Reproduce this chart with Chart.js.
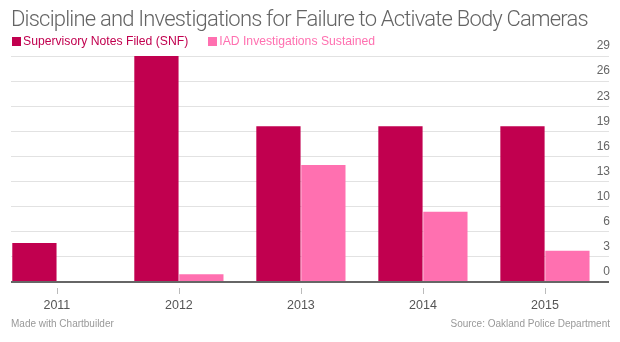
<!DOCTYPE html>
<html>
<head>
<meta charset="utf-8">
<script src="https://cdn.jsdelivr.net/npm/chart.js@4.4.1/dist/chart.umd.min.js"></script>
<style>
  html, body { margin: 0; padding: 0; background: #fff; }
  #wrap { position: relative; width: 620px; height: 342px; overflow: hidden; }
  #chart { position: absolute; left: 0; top: 0; }
  #title { position: absolute; left: 11px; top: 8px; font: 300 22px/22px Roboto, sans-serif; letter-spacing: -0.8px; color: #646464; white-space: nowrap; }
  #legend { position: absolute; left: 12px; top: 35px; display: flex; font: 12.2px/13px "Liberation Sans", Arial, sans-serif; white-space: nowrap; }
  #legend .item { display: flex; align-items: center; margin-right: 20px; }
  #legend .box { width: 9px; height: 9px; margin-right: 2px; }
  .foot { position: absolute; top: 318px; font: 10px/11px "Liberation Sans", Arial, sans-serif; color: #999; white-space: nowrap; }
</style>
</head>
<body>
<div id="wrap">
  <canvas id="chart" width="620" height="342"></canvas>
  <div id="title">Discipline and Investigations for Failure to Activate Body Cameras</div>
  <div id="legend"></div>
  <div class="foot" style="left:11px">Made with Chartbuilder</div>
  <div class="foot" style="right:10px">Source: Oakland Police Department</div>
</div>
<script>
const years = ['2011', '2012', '2013', '2014', '2015'];
const seriesNames = ['Supervisory Notes Filed (SNF)', 'IAD Investigations Sustained'];
const snfFiled = [5, 29, 20, 20, 20];
const iadSustained = [0, 1, 15, 9, 4];
const yTickLabels = ['0', '3', '6', '10', '13', '16', '19', '23', '26', '29'];
const yMax = 29;

const colors = ['#c1004f', '#ff70b0'];
const sans = '"Liberation Sans", Arial, sans-serif';

// legend in html so it lines up with the title
const legend = document.getElementById('legend');
seriesNames.forEach((name, i) => {
  const item = document.createElement('div');
  item.className = 'item';
  item.style.color = colors[i];
  const box = document.createElement('span');
  box.className = 'box';
  box.style.background = colors[i];
  item.appendChild(box);
  item.appendChild(document.createTextNode(name));
  legend.appendChild(item);
});

const toPoints = (values) => years.map((y, i) => ({ x: i, y: values[i] }));

// little grey marks under the baseline, a few px below it
const tickMarks = {
  id: 'tickMarks',
  afterDraw(chart) {
    const xScale = chart.scales.x;
    const ctx = chart.ctx;
    ctx.save();
    ctx.fillStyle = '#bbb';
    xScale.ticks.forEach((t, i) => {
      const px = Math.round(xScale.getPixelForTick(i));
      ctx.fillRect(px, xScale.top + 6, 1, 6);
    });
    ctx.restore();
  }
};

new Chart(document.getElementById('chart'), {
  type: 'bar',
  data: {
    datasets: [
      { label: seriesNames[0], data: toPoints(snfFiled), backgroundColor: colors[0] },
      { label: seriesNames[1], data: toPoints(iadSustained), backgroundColor: colors[1] }
    ]
  },
  plugins: [tickMarks],
  options: {
    responsive: false,
    animation: false,
    devicePixelRatio: 1,
    categoryPercentage: 0.7365,
    barPercentage: 0.985,
    layout: { padding: { top: 56, left: 11, right: 9, bottom: 25 } },
    plugins: {
      legend: { display: false },
      title: { display: false },
      tooltip: { enabled: false }
    },
    scales: {
      x: {
        type: 'linear',
        offset: false,
        min: -0.376,
        max: 4.525,
        afterBuildTicks: (axis) => {
          axis.ticks = years.map((y, i) => ({ value: i }));
        },
        ticks: {
          callback: (v) => years[v],
          color: '#555',
          font: { family: sans, size: 12.5 },
          padding: 4,
          maxRotation: 0,
          autoSkip: false
        },
        grid: {
          offset: false,
          drawOnChartArea: false,
          drawTicks: true,
          tickLength: 12,
          tickColor: 'rgba(0,0,0,0)'
        },
        border: { display: false }
      },
      y: {
        position: 'right',
        min: 0,
        max: yMax,
        afterBuildTicks: (axis) => {
          axis.ticks = yTickLabels.map((l, i) => ({ value: i * yMax / (yTickLabels.length - 1) }));
        },
        ticks: {
          mirror: true,
          padding: 1,
          labelOffset: -10,
          callback: (v, i) => yTickLabels[i],
          color: '#666',
          font: { family: sans, size: 12 }
        },
        grid: {
          drawTicks: false,
          color: (ctx) => (ctx.tick && ctx.tick.value === 0 ? '#666' : '#e2e2e2'),
          lineWidth: (ctx) => (ctx.tick && ctx.tick.value === 0 ? 2 : 1)
        },
        border: { display: false }
      }
    }
  }
});
</script>
</body>
</html>
